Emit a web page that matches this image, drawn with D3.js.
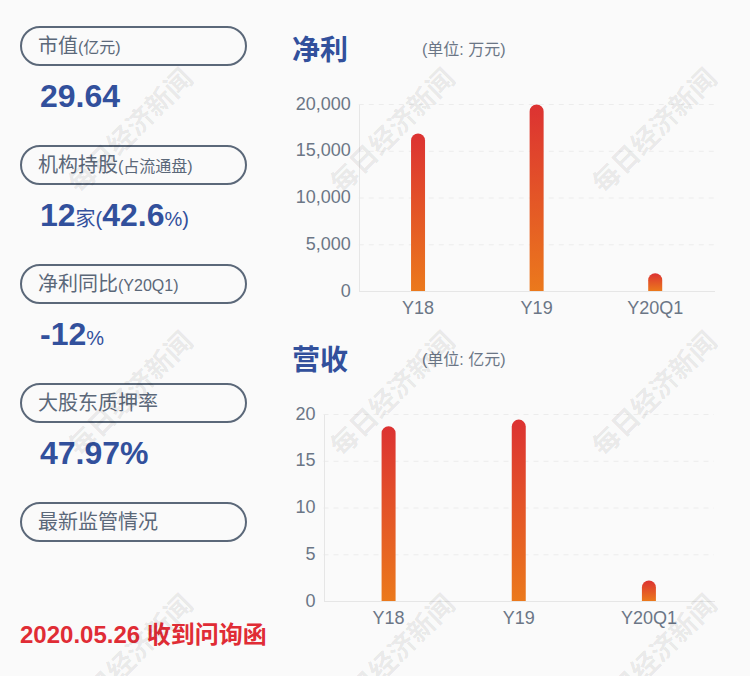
<!DOCTYPE html>
<html>
<head>
<meta charset="utf-8">
<script src="https://cdn.jsdelivr.net/npm/d3@7"></script>
<style>
  html, body { margin: 0; padding: 0; background: #fafafa; }
  svg { display: block; }
  text { font-family: "Liberation Sans", "Noto Sans CJK SC", sans-serif; }
  .axis path, .axis line { shape-rendering: crispEdges; }
</style>
</head>
<body>
<svg id="chart" width="750" height="676"></svg>
<script>
const periods = ["Y18", "Y19", "Y20Q1"];
const profitValues = [16850, 19950, 1900];
const profitTicks = [0, 5000, 10000, 15000, 20000];
const revenueValues = [18.7, 19.4, 2.2];
const revenueTicks = [0, 5, 10, 15, 20];

const pillLabels = [
  ["市值", "(亿元)"],
  ["机构持股", "(占流通盘)"],
  ["净利同比", "(Y20Q1)"],
  ["大股东质押率", ""],
  ["最新监管情况", ""]
];
// each run is [text, big?]
const pillValues = [
  [["29.64", true]],
  [["12", true], ["家(", false], ["42.6", true], ["%)", false]],
  [["-12", true], ["%", false]],
  [["47.97%", true]],
  []
];
const noticeText = "2020.05.26 收到问询函";
const watermarkText = "每日经济新闻";

const navy = "#32509c";
const slate = "#5b6879";
const labelGrey = "#6b7686";

const svg = d3.select("#chart");

const defs = svg.append("defs");
const gradient = defs.append("linearGradient")
  .attr("id", "barFill")
  .attr("x1", "0%").attr("y1", "0%")
  .attr("x2", "0%").attr("y2", "100%");
gradient.append("stop").attr("offset", "0%").attr("stop-color", "#dc3232");
gradient.append("stop").attr("offset", "100%").attr("stop-color", "#eb791c");

function drawPanels() {
  const pillHeight = 38;
  const rows = svg.append("g").selectAll("g")
    .data(pillLabels)
    .join("g")
    .attr("transform", (d, i) => `translate(21,${27 + i * 119})`);

  rows.append("rect")
    .attr("width", 225)
    .attr("height", pillHeight)
    .attr("rx", 19)
    .attr("fill", "none")
    .attr("stroke", slate)
    .attr("stroke-width", 2);

  const label = rows.append("text")
    .attr("x", 17)
    .attr("y", 26)
    .attr("fill", slate);
  label.append("tspan").attr("font-size", 20).text(d => d[0]);
  label.append("tspan").attr("font-size", 16).text(d => d[1]);

  const value = rows.append("text")
    .attr("x", 19)
    .attr("y", 80)
    .attr("fill", navy);
  value.selectAll("tspan")
    .data((d, i) => pillValues[i])
    .join("tspan")
    .attr("font-size", d => d[1] ? 32 : 20)
    .attr("font-weight", d => d[1] ? 700 : 400)
    .text(d => d[0]);

  svg.append("text")
    .attr("x", 20)
    .attr("y", 643)
    .attr("font-size", 24)
    .attr("font-weight", 700)
    .attr("fill", "#e02c35")
    .text(noticeText);
}

function drawBars(cfg) {
  const x = d3.scaleBand()
    .domain(periods)
    .range([cfg.left, cfg.right]);
  const y = d3.scaleLinear()
    .domain([0, cfg.max])
    .range([cfg.bottom, cfg.top]);

  const g = svg.append("g");

  g.append("text")
    .attr("x", 292)
    .attr("y", cfg.top - 44)
    .attr("font-size", 28)
    .attr("font-weight", 700)
    .attr("fill", navy)
    .text(cfg.title);
  g.append("text")
    .attr("x", 422)
    .attr("y", cfg.top - 49)
    .attr("font-size", 16)
    .attr("fill", labelGrey)
    .text(cfg.unit);

  // dashed grid
  g.append("g").selectAll("line")
    .data(cfg.ticks.slice(1))
    .join("line")
    .attr("x1", cfg.left)
    .attr("x2", cfg.right)
    .attr("y1", d => y(d) + 0.5)
    .attr("y2", d => y(d) + 0.5)
    .attr("stroke", "#ececec")
    .attr("stroke-dasharray", "5,5");

  const yAxis = g.append("g")
    .attr("class", "axis")
    .attr("transform", `translate(${cfg.left},0)`)
    .call(d3.axisLeft(y).tickValues(cfg.ticks).tickSize(0).tickPadding(8).tickFormat(d3.format(",")));
  yAxis.select(".domain").attr("stroke", "#e6e6e6");
  yAxis.selectAll("text").attr("font-size", 18).attr("fill", labelGrey).attr("dy", "0.28em");

  const xAxis = g.append("g")
    .attr("class", "axis")
    .attr("transform", `translate(0,${cfg.bottom})`)
    .call(d3.axisBottom(x).tickSize(0).tickPadding(10));
  xAxis.select(".domain").attr("stroke", "#e6e6e6");
  xAxis.selectAll("text").attr("font-size", 18).attr("fill", labelGrey);

  const barWidth = 14;
  g.append("g").selectAll("path")
    .data(cfg.values)
    .join("path")
    .attr("fill", "url(#barFill)")
    .attr("d", (d, i) => {
      const cx = x(periods[i]) + x.bandwidth() / 2;
      const r = barWidth / 2;
      const p = d3.path();
      p.moveTo(cx - r, y(0));
      p.lineTo(cx - r, y(d) + r);
      p.arc(cx, y(d) + r, r, Math.PI, 0);
      p.lineTo(cx + r, y(0));
      p.closePath();
      return p.toString();
    });
}

function drawWatermarks() {
  const columns = [131, 393, 655];
  const rows = [131, 394, 657];
  const spots = d3.cross(columns, rows);
  svg.append("g").selectAll("text")
    .data(spots)
    .join("text")
    .attr("transform", d => `translate(${d[0]},${d[1]}) rotate(-45)`)
    .attr("text-anchor", "middle")
    .attr("dominant-baseline", "central")
    .attr("font-size", 27)
    .attr("font-weight", 700)
    .attr("fill", "#000")
    .attr("fill-opacity", 0.085)
    .text(watermarkText);
}

drawPanels();
drawBars({
  title: "净利", unit: "(单位: 万元)",
  values: profitValues, ticks: profitTicks, max: 20000,
  left: 358.75, right: 714.5, top: 104, bottom: 291
});
drawBars({
  title: "营收", unit: "(单位: 亿元)",
  values: revenueValues, ticks: revenueTicks, max: 20,
  left: 323.5, right: 714, top: 414, bottom: 601
});
drawWatermarks();
</script>
</body>
</html>
